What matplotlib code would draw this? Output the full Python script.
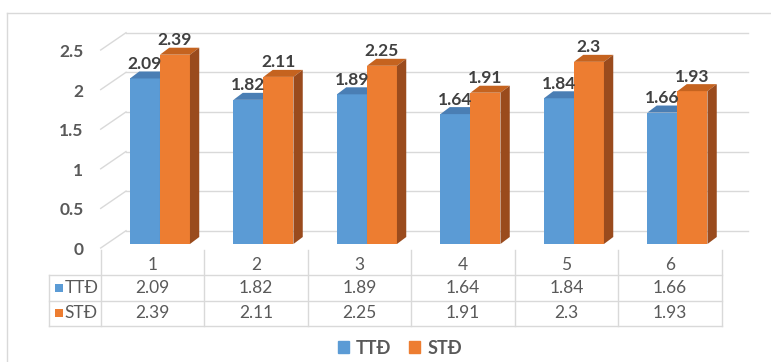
import matplotlib
matplotlib.use('Agg')
import matplotlib.pyplot as plt
from matplotlib.patches import Polygon, Patch
from matplotlib.lines import Line2D

# data
categories = ['1', '2', '3', '4', '5', '6']
series_names = ['TTĐ', 'STĐ']
ttd = [2.09, 1.82, 1.89, 1.64, 1.84, 1.66]
std = [2.39, 2.11, 2.25, 1.91, 2.3, 1.93]
y_ticks = [0, 0.5, 1, 1.5, 2, 2.5]
y_tick_labels = ['0', '0.5', '1', '1.5', '2', '2.5']

plt.rcParams['font.family'] = ['Lato', 'DejaVu Sans']

front_col = ['#5B9BD5', '#ED7D31']
top_col = ['#4A7EB4', '#C5631F']
side_col = ['#41719C', '#9A4B1D']
grid_col = '#D9D9D9'
text_col = '#595959'

W, H = 771, 362
fig = plt.figure(figsize=(W / 100, H / 100), dpi=100)

# plot box in pixels
px_left, px_right = 100.7, 721.7
px_zero, px_per_unit = 244, 79.2
ax = fig.add_axes([px_left / W, 1 - px_zero / H,
                   (px_right - px_left) / W, 2.5 * px_per_unit / H])
ax.set_xlim(-0.5, 5.5)
ax.set_ylim(0, 2.5)
ax.axis('off')

sx = (px_right - px_left) / len(categories)
sy = px_per_unit


def ux(p):
    return p / sx


def uy(p):
    return p / sy


# back wall and side wall
wall_x0 = -0.5 + ux(25.3)
wall_x1 = 5.5 + ux(26)
wall_dy = uy(13.3)
for t, lab in zip(y_ticks, y_tick_labels):
    ax.plot([wall_x0, wall_x1], [t + wall_dy] * 2, color=grid_col, lw=1,
            clip_on=False, zorder=1)
    ax.plot([-0.5, wall_x0], [t - uy(4), t + wall_dy], color=grid_col, lw=1,
            clip_on=False, zorder=1)
    ax.text(-0.5 - ux(17.2), t - uy(6), lab, ha='right', va='center',
            fontsize=12.5, fontweight='bold', color=text_col)

# 3d bars
bw = ux(30)
ddx, ddy = ux(9.3), uy(7)
offsets = [ux(-22.5), ux(7.5)]
xs = range(len(categories))
for s, vals in enumerate([ttd, std]):
    z = 2 + s
    lefts = [i + offsets[s] for i in xs]
    ax.bar(lefts, vals, width=bw, align='edge', color=front_col[s],
           lw=0, zorder=z, clip_on=False)
    for x0, v in zip(lefts, vals):
        x1 = x0 + bw
        ax.add_patch(Polygon([(x0, v), (x1, v), (x1 + ddx, v + ddy), (x0 + ddx, v + ddy)],
                             closed=True, fc=top_col[s], lw=0, zorder=z, clip_on=False))
        ax.add_patch(Polygon([(x1, 0), (x1 + ddx, ddy), (x1 + ddx, v + ddy), (x1, v)],
                             closed=True, fc=side_col[s], lw=0, zorder=z, clip_on=False))
        ax.text(x0 + bw / 2, v + ddy + uy(2.5), f'{v:g}', ha='center', va='baseline',
                fontsize=12.5, fontweight='bold', color='#404040', zorder=5)

# data table
tab = fig.add_axes([px_left / W, 1 - 326 / H, (px_right - px_left) / W, 76 / H])
tab.set_xlim(-0.5, 5.5)
tab.set_ylim(3, 0)
tab.axis('off')
tab_x0 = -0.5 - ux(52)
for k in range(len(categories) + 1):
    tab.plot([k - 0.5] * 2, [0, 3], color=grid_col, lw=1, clip_on=False)
tab.plot([tab_x0] * 2, [1, 3], color=grid_col, lw=1, clip_on=False)
for r in (1, 2, 3):
    tab.plot([tab_x0, 5.5], [r, r], color=grid_col, lw=1, clip_on=False)
for i, c in enumerate(categories):
    tab.text(i, 0.6, c, ha='center', va='center', fontsize=12.5, color=text_col)
for r, (name, vals) in enumerate(zip(series_names, [ttd, std])):
    yy = r + 1.5
    tab.plot(tab_x0 + ux(10.5), yy, marker='s', ms=6, mew=0, color=front_col[r],
             clip_on=False)
    tab.text(tab_x0 + ux(16), yy, name, ha='left', va='center', fontsize=12.5,
             color=text_col)
    for i, v in enumerate(vals):
        tab.text(i, yy, f'{v:g}', ha='center', va='center', fontsize=12.5,
                 color=text_col)

# legend
handles = [Patch(color=front_col[k], label=series_names[k]) for k in range(2)]
fig.legend(handles=handles, loc='center', bbox_to_anchor=(400 / W, 1 - 348 / H),
           ncol=2, frameon=False, prop={'weight': 'bold', 'size': 13},
           handlelength=0.6, handleheight=0.6, handletextpad=0.4,
           columnspacing=1.0, labelcolor=text_col)

# chart area border
fig.add_artist(Line2D([7 / W, 1], [1 - 13 / H] * 2, transform=fig.transFigure,
                      color=grid_col, lw=1))
fig.add_artist(Line2D([7 / W] * 2, [0, 1 - 13 / H], transform=fig.transFigure,
                      color=grid_col, lw=1))

fig.savefig('out.png', dpi=100)
